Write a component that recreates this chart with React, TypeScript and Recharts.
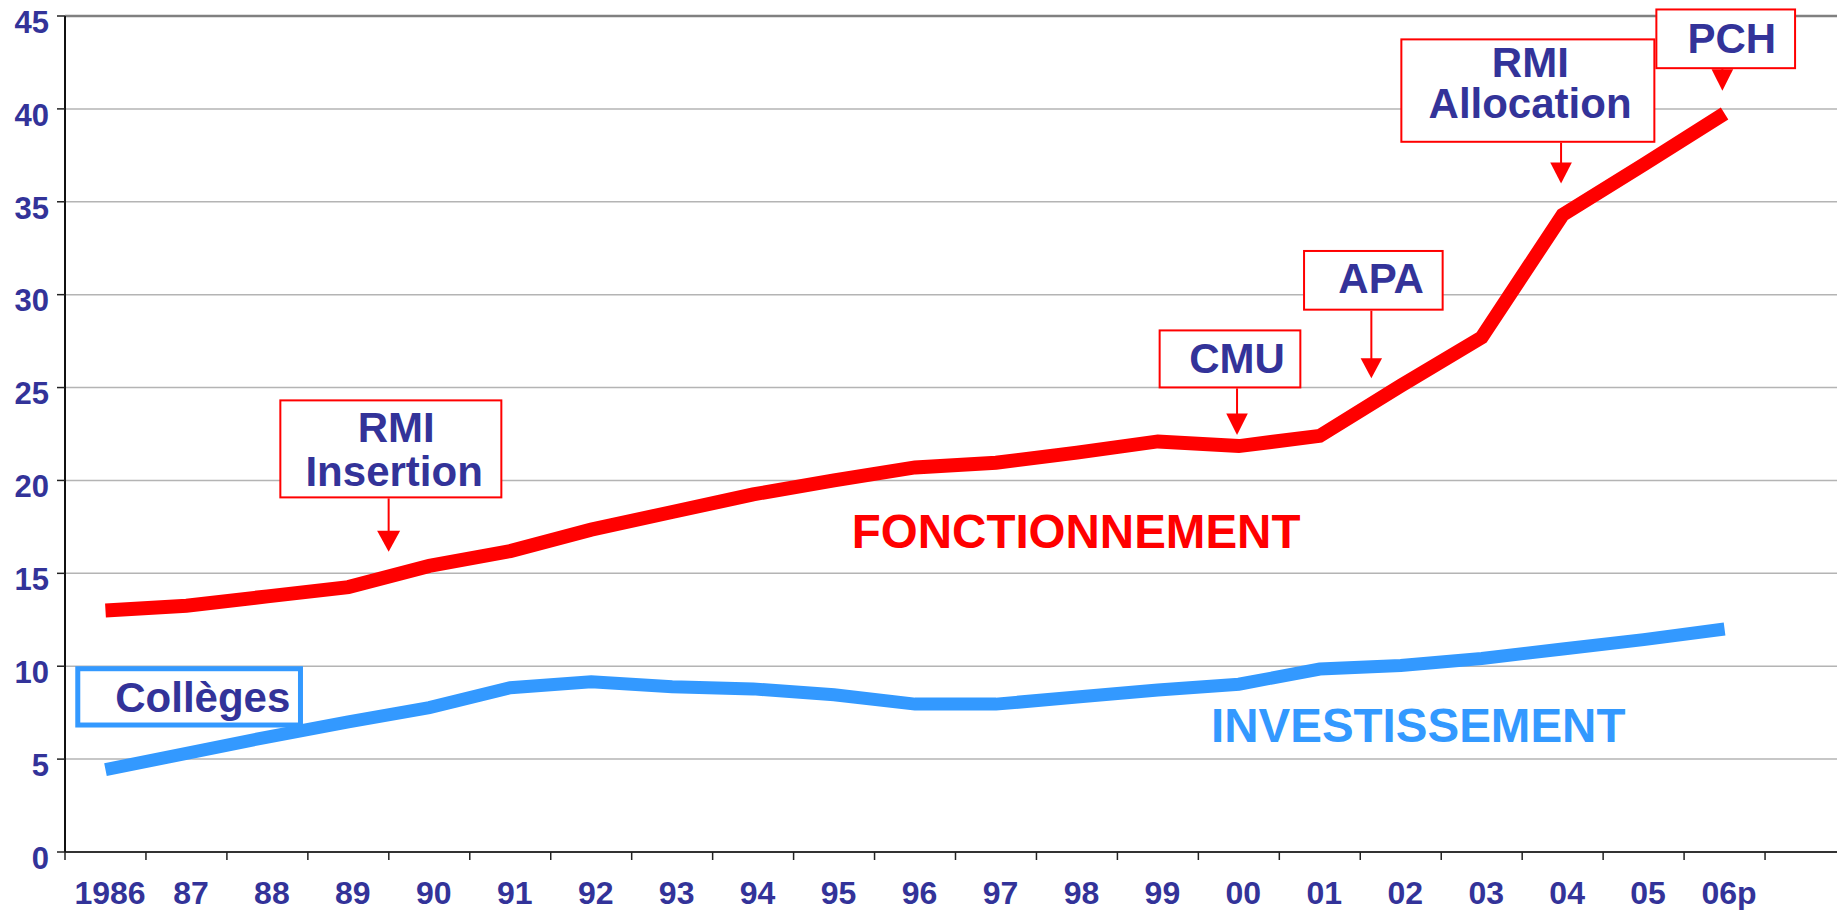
import React from 'react';
import { LineChart, Line, XAxis, YAxis, CartesianGrid, ReferenceLine, ReferenceDot } from 'recharts';

// ---- data ----
const years = ['1986', '87', '88', '89', '90', '91', '92', '93', '94', '95', '96', '97', '98', '99', '00', '01', '02', '03', '04', '05', '06p', ''];
const fonctionnement = [13.0, 13.26, 13.76, 14.26, 15.4, 16.2, 17.35, 18.3, 19.25, 20.0, 20.7, 20.95, 21.5, 22.1, 21.85, 22.4, 25.1, 27.7, 34.3, 37.0, 39.75, null];
const investissement = [4.43, 5.31, 6.19, 7.01, 7.77, 8.84, 9.16, 8.9, 8.78, 8.46, 7.96, 7.96, 8.34, 8.72, 9.03, 9.85, 10.04, 10.42, 10.93, 11.43, 12.0, null];
const yTicks = [0, 5, 10, 15, 20, 25, 30, 35, 40, 45];

const data = years.map((y, i) => ({ year: y, fonct: fonctionnement[i], invest: investissement[i] }));

// ---- annotation definitions (anchor category + value of the arrow tip) ----
const callouts = [
  { cat: '89', value: 16.16, dx: 40.3, left: -109.3, right: 113.7, top: -152.4, bottom: -53.4, head: 21, hw: 11.5,
    lines: [{ t: 'RMI', x: 7.5, y: -110 }, { t: 'Insertion', x: 5.5, y: -65.7 }] },
  { cat: '00', value: 22.44, dx: -1.8, left: -78.4, right: 64.3, top: -105.7, bottom: -46.7, head: 21.7, hw: 10.8,
    lines: [{ t: 'CMU', x: 0, y: -62.3 }] },
  { cat: '02', value: 25.5, dx: -29.4, left: -68.3, right: 72.3, top: -128.3, bottom: -67.6, head: 20, hw: 10.7,
    lines: [{ t: 'APA', x: 9.8, y: -85 }] },
  { cat: '04', value: 35.99, dx: -1.6, left: -160.7, right: 94.3, top: -145, bottom: -40.6, head: 21, hw: 10.8,
    lines: [{ t: 'RMI', x: -30.7, y: -106 }, { t: 'Allocation', x: -31, y: -65 }] },
  { cat: '06p', value: 40.97, dx: -2.2, left: -67, right: 73.7, top: -82.4, bottom: -21.7, head: 21.7, hw: 10.8,
    lines: [{ t: 'PCH', x: 9.5, y: -38 }] },
];

const FONT = '"Liberation Sans", Arial, Helvetica, sans-serif';
const NAVY = '#333399';
const RED = '#FF0000';
const BLUE = '#3399FF';

const CHART_W = 1846;
const CHART_H = 910;
const Y_AXIS_W = 65;
const X_AXIS_H = 58;
const AXIS_Y = CHART_H - X_AXIS_H;
const BAND = (CHART_W - Y_AXIS_W) / years.length;

const XTick = (props: any) => {
  const { x, payload } = props;
  const bx = x - BAND / 2;
  return (
    <g>
      <line x1={bx} x2={bx} y1={AXIS_Y} y2={AXIS_Y + 8} stroke="#222" strokeWidth={1.5} />
      <text x={x + 4.5} y={AXIS_Y + 52} textAnchor="middle" fill={NAVY} fontFamily={FONT} fontWeight="bold" fontSize={32}>
        {payload.value}
      </text>
    </g>
  );
};

const YTick = (props: any) => {
  const { x, y, payload } = props;
  return (
    <text x={x} y={y + 16.8} textAnchor="end" fill={NAVY} fontFamily={FONT} fontWeight="bold" fontSize={31}>
      {payload.value}
    </text>
  );
};

const Callout = (props: any) => {
  const { cx, cy, c } = props;
  if (cx == null || cy == null) return null;
  const tx = cx + c.dx;
  const ty = cy;
  return (
    <g>
      <line x1={tx} x2={tx} y1={ty + c.bottom} y2={ty - c.head + 1} stroke={RED} strokeWidth={2} />
      <polygon points={`${tx - c.hw},${ty - c.head} ${tx + c.hw},${ty - c.head} ${tx},${ty}`} fill={RED} />
      <rect x={tx + c.left + 1} y={ty + c.top + 1} width={c.right - c.left - 2} height={c.bottom - c.top - 2}
        fill="#fff" stroke={RED} strokeWidth={2} />
      {c.lines.map((l: any, i: number) => (
        <text key={i} x={tx + l.x} y={ty + l.y} textAnchor="middle" fill={NAVY} fontFamily={FONT} fontWeight="bold" fontSize={42}>
          {l.t}
        </text>
      ))}
    </g>
  );
};

const CollegesBox = (props: any) => {
  const { cx, cy } = props;
  if (cx == null || cy == null) return null;
  return (
    <g>
      <rect x={cx - 30.2 + 2.5} y={cy + 2.5} width={222.7} height={56.3} fill="#fff" stroke={BLUE} strokeWidth={5} />
      <text x={cx + 9.8} y={cy + 45.5} textAnchor="start" fill={NAVY} fontFamily={FONT} fontWeight="bold" fontSize={42}>
        Collèges
      </text>
    </g>
  );
};

const SeriesLabel = (props: any) => {
  const { cx, cy, text, color, dx } = props;
  if (cx == null || cy == null) return null;
  return (
    <text x={cx + dx} y={cy} textAnchor="middle" fill={color} fontFamily={FONT} fontWeight="bold" fontSize={47.5}>
      {text}
    </text>
  );
};

export default function App() {
  return (
    <div style={{ position: 'absolute', left: 0, top: 0, width: 1837, height: 910, overflow: 'hidden', background: '#fff' }}>
      <LineChart width={CHART_W} height={CHART_H} data={data} margin={{ top: 16, right: 0, bottom: 0, left: 0 }}>
        <CartesianGrid vertical={false} stroke="#b4b4b4" strokeWidth={1.5} />
        <ReferenceLine y={45} stroke="#808080" strokeWidth={2.5} />
        <XAxis
          dataKey="year"
          scale="band"
          height={X_AXIS_H}
          interval={0}
          tick={<XTick />}
          tickLine={false}
          tickSize={0}
          tickMargin={0}
          axisLine={{ stroke: '#333', strokeWidth: 2 }}
        />
        <YAxis
          width={Y_AXIS_W}
          domain={[0, 45]}
          ticks={yTicks}
          interval={0}
          tick={<YTick />}
          tickSize={8}
          tickMargin={8}
          tickLine={{ stroke: '#222', strokeWidth: 1.5 }}
          axisLine={{ stroke: '#111', strokeWidth: 2 }}
        />
        <Line type="linear" dataKey="invest" stroke={BLUE} strokeWidth={13} dot={false} activeDot={false} isAnimationActive={false} />
        <Line type="linear" dataKey="fonct" stroke={RED} strokeWidth={14} dot={false} activeDot={false} isAnimationActive={false} />
        <ReferenceDot x="1986" y={10} r={0} ifOverflow="visible" shape={(p: any) => <CollegesBox {...p} />} />
        <ReferenceDot x="98" y={16.38} r={0} ifOverflow="visible"
          shape={(p: any) => <SeriesLabel {...p} text="FONCTIONNEMENT" color={RED} dx={-0.8} />} />
        <ReferenceDot x="02" y={5.9} r={0} ifOverflow="visible"
          shape={(p: any) => <SeriesLabel {...p} text="INVESTISSEMENT" color={BLUE} dx={17.5} />} />
        {callouts.map((c, i) => (
          <ReferenceDot key={i} x={c.cat} y={c.value} r={0} ifOverflow="visible" shape={(p: any) => <Callout {...p} c={c} />} />
        ))}
      </LineChart>
    </div>
  );
}
